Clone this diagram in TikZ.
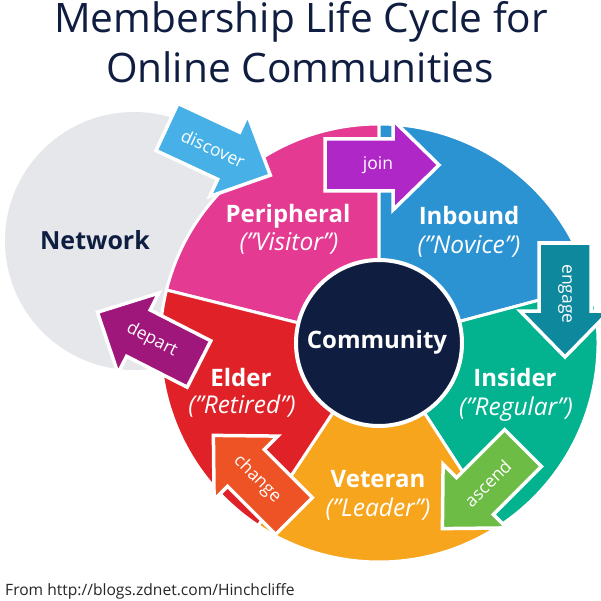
\documentclass[tikz,border=0pt]{standalone}
\usepackage{fontspec}
\setmainfont{Open Sans}
\definecolor{navy}{HTML}{0F1D41}
\definecolor{netgray}{HTML}{E6E7EB}
\definecolor{pinkseg}{HTML}{E43A92}
\definecolor{blueseg}{HTML}{2B93D1}
\definecolor{tealseg}{HTML}{03B38F}
\definecolor{orangeseg}{HTML}{F8A51E}
\definecolor{redseg}{HTML}{E02228}
\definecolor{discoverc}{HTML}{47B1E7}
\definecolor{joinc}{HTML}{B027C8}
\definecolor{engagec}{HTML}{0E889D}
\definecolor{ascendc}{HTML}{6CBC46}
\definecolor{changec}{HTML}{EE5326}
\definecolor{departc}{HTML}{A0177C}
\tikzset{
  seg/.style={draw=white, line width=3pt, line join=round},
  blockarrow/.style={draw=white, line width=3.5pt, line join=miter},
  lab/.style={text=white, font=\bfseries\fontsize{24}{24}\selectfont, inner sep=0pt, anchor=base},
  sublab/.style={text=white, font=\itshape\fontsize{24.5}{24.5}\selectfont, inner sep=0pt, anchor=base},
  arrlab/.style={text=white, font=\fontsize{17.5}{17.5}\selectfont, inner sep=0pt},
  titlelab/.style={text=navy, font=\fontsize{40.6}{40.6}\selectfont, inner sep=0pt, anchor=base},
}
\newcommand\blockarr[7]{% name, tail, angle, color, text, text angle, label offset
  \begin{scope}[shift={#2}, rotate=#3]
    \fill[#4, blockarrow] (0,-26) -- (68,-26) -- (68,-45) -- (114,0) -- (68,45) -- (68,26) -- (0,26) -- cycle;
    \node[arrlab, rotate=#6] (#1) at (#7,0) {#5};
  \end{scope}}
\begin{document}
\begin{tikzpicture}[x=1pt, y=-1pt]
  \useasboundingbox (0,0) rectangle (601,601);
  \fill[white] (0,0) rectangle (601,601);
  % title
  \node[titlelab] (t1) at (301,33) {Membership Life Cycle for};
  \node[titlelab] (t2) at (300,83) {Online Communities};
  % network
  \fill[netgray] (134,241) circle (129);
  \node[text=navy, font=\bfseries\fontsize{25}{25}\selectfont, inner sep=0pt, anchor=base] (net) at (95,250) {Network};
  % ring
  \coordinate (C) at (379,343);
  \fill[pinkseg, seg] (C) -- ++(-166:219) arc (-166:-90:219) -- cycle;
  \fill[blueseg, seg] (C) -- ++(-90:219) arc (-90:-15:219) -- cycle;
  \fill[tealseg, seg] (C) -- ++(-15:219) arc (-15:57:219) -- cycle;
  \fill[orangeseg, seg] (C) -- ++(57:219) arc (57:123.5:219) -- cycle;
  \fill[redseg, seg] (C) -- ++(123.5:219) arc (123.5:194:219) -- cycle;
  \node[circle, fill=navy, draw=white, line width=4pt, minimum size=166pt, inner sep=0pt] (comm) at (C) {};
  \node[text=white, font=\bfseries\fontsize{24}{24}\selectfont, inner sep=0pt, anchor=base] (commlab) at (377,348) {Community};
  % arrows
  \blockarr{discover}{(167,127)}{-25}{discoverc}{discover}{-25}{51}
  \blockarr{join}{(325,165)}{0}{joinc}{join}{0}{53}
  \blockarr{engage}{(565,243)}{-90}{engagec}{engage}{-90}{51}
  \blockarr{ascend}{(523,448)}{-135}{ascendc}{ascend}{45}{50}
  \blockarr{change}{(294,516)}{135}{changec}{change}{-45}{52}
  \blockarr{depart}{(199,364)}{153}{departc}{depart}{-27}{53}
  % stage labels
  \node[lab] (per) at (288,223) {Peripheral};
  \node[sublab] (pers) at (289,251) {("Visitor")};
  \node[lab] (inb) at (469,225) {Inbound};
  \node[sublab] (inbs) at (469,254) {("Novice")};
  \node[lab] (ins) at (515,386) {Insider};
  \node[sublab] (inss) at (516,415) {("Regular")};
  \node[lab] (vet) at (378,487) {Veteran};
  \node[sublab] (vets) at (378,516) {("Leader")};
  \node[lab] (eld) at (241,386) {Elder};
  \node[sublab] (elds) at (242,413) {("Retired")};
  % footer
  \node[text=black!85, font=\fontsize{15.6}{15.6}\selectfont, inner sep=0pt, anchor=base west] (foot) at (5,595) {From http://blogs.zdnet.com/Hinchcliffe};
\end{tikzpicture}
\end{document}
